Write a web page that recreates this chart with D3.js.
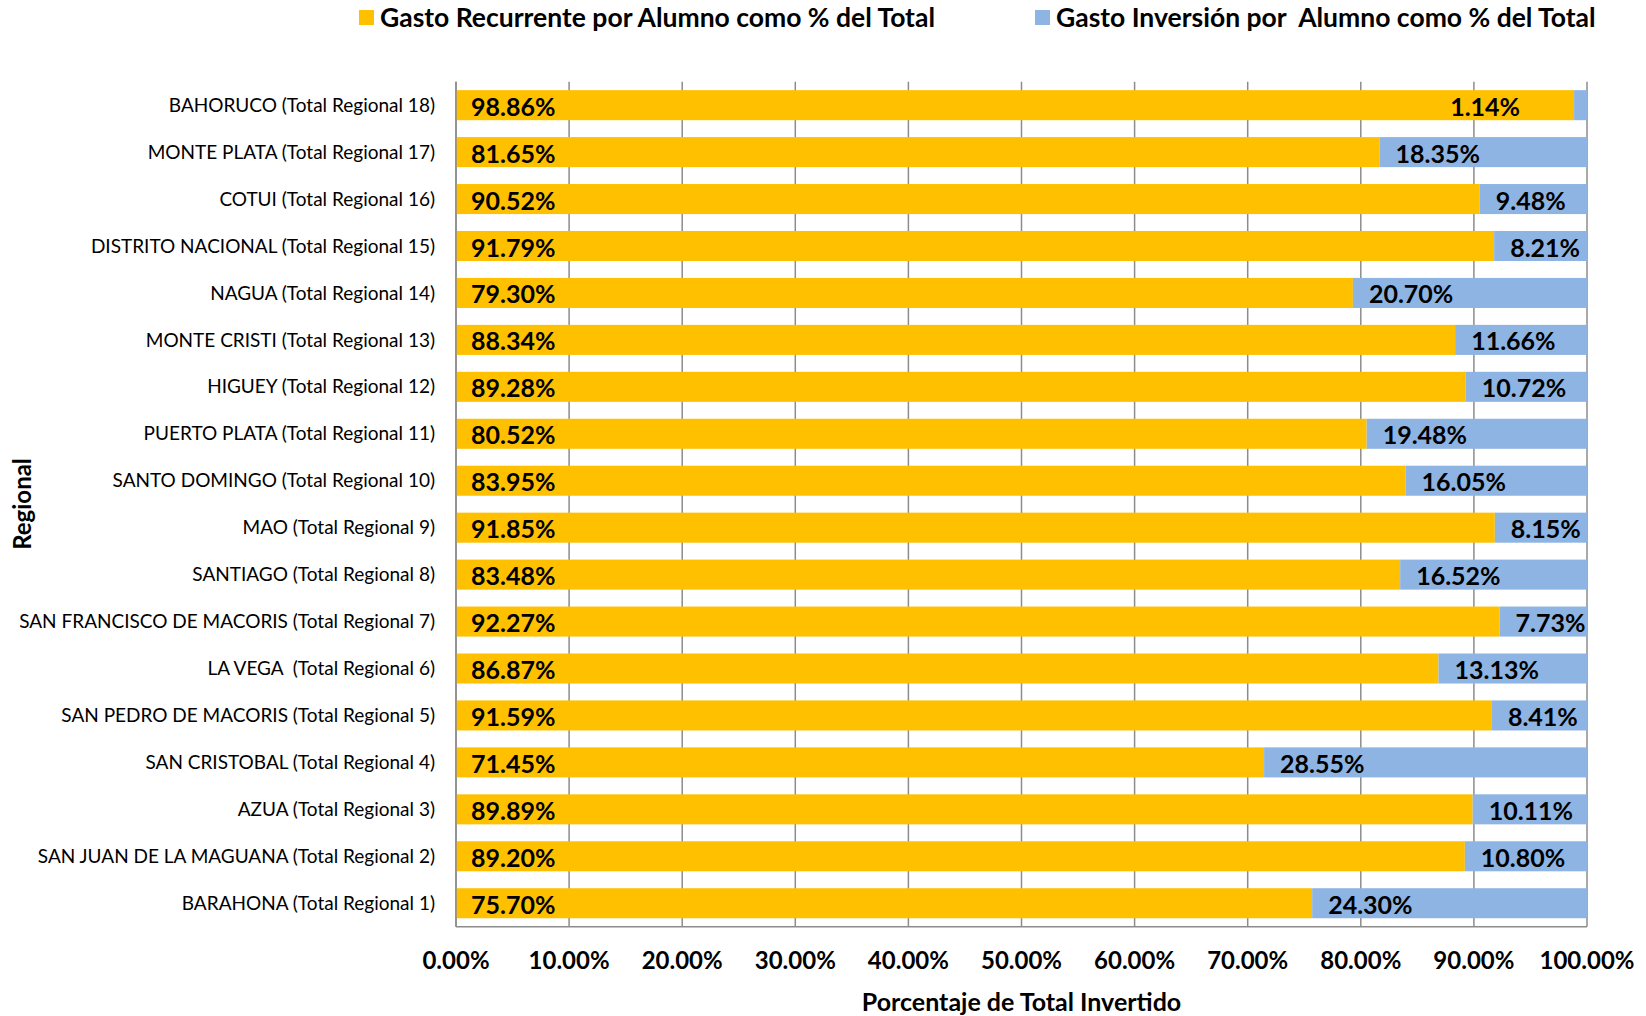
<!DOCTYPE html>
<meta charset="utf-8">
<style>
body {
  margin: 0;
  background: #fff;
  font-family: Lato, "Open Sans", sans-serif;
}
.grid line {
  stroke: #8c8c8c;
  stroke-width: 1.5;
}
.cat {
  font-size: 19px;
  fill: #000;
  white-space: pre;
}
.lbl {
  font-size: 25px;
  font-weight: bold;
  fill: #000;
}
.tick-lbl {
  font-size: 24px;
  font-weight: bold;
}
</style>
<svg width="1646" height="1016"></svg>
<script src="https://cdn.jsdelivr.net/npm/d3@7/dist/d3.min.js"></script>
<script>

// regional names, bottom (1) to top (18)
var regionales = [
  "BARAHONA (Total Regional 1)",
  "SAN JUAN DE LA MAGUANA (Total Regional 2)",
  "AZUA (Total Regional 3)",
  "SAN CRISTOBAL (Total Regional 4)",
  "SAN PEDRO DE MACORIS (Total Regional 5)",
  "LA VEGA  (Total Regional 6)",
  "SAN FRANCISCO DE MACORIS (Total Regional 7)",
  "SANTIAGO (Total Regional 8)",
  "MAO (Total Regional 9)",
  "SANTO DOMINGO (Total Regional 10)",
  "PUERTO PLATA (Total Regional 11)",
  "HIGUEY (Total Regional 12)",
  "MONTE CRISTI (Total Regional 13)",
  "NAGUA (Total Regional 14)",
  "DISTRITO NACIONAL (Total Regional 15)",
  "COTUI (Total Regional 16)",
  "MONTE PLATA (Total Regional 17)",
  "BAHORUCO (Total Regional 18)"
];

var recurrente = [75.70, 89.20, 89.89, 71.45, 91.59, 86.87, 92.27, 83.48, 91.85,
                  83.95, 80.52, 89.28, 88.34, 79.30, 91.79, 90.52, 81.65, 98.86];
var inversion  = [24.30, 10.80, 10.11, 28.55, 8.41, 13.13, 7.73, 16.52, 8.15,
                  16.05, 19.48, 10.72, 11.66, 20.70, 8.21, 9.48, 18.35, 1.14];

var xTicks = [0, 10, 20, 30, 40, 50, 60, 70, 80, 90, 100];

var seriesNames = ["Gasto Recurrente por Alumno como % del Total",
                   "Gasto Inversión por  Alumno como % del Total"];
var colors = ["#FFC000", "#8EB4E3"];

var svg = d3.select("svg");
var plotLeft = 456, plotRight = 1587, plotTop = 81.7, plotBottom = 926.7;

var x = d3.scaleLinear().domain([0, 100]).range([plotLeft, plotRight]);
var y = d3.scaleBand()
    .domain(regionales.slice().reverse())
    .range([plotTop, plotBottom])
    .paddingInner(0.36)
    .paddingOuter(0.18);

// gridlines
svg.append("g").attr("class", "grid")
  .selectAll("line")
  .data(xTicks)
  .enter().append("line")
    .attr("x1", function(d){ return x(d); })
    .attr("x2", function(d){ return x(d); })
    .attr("y1", plotTop)
    .attr("y2", plotBottom);

svg.append("line")
  .attr("x1", plotLeft).attr("x2", plotRight)
  .attr("y1", plotBottom).attr("y2", plotBottom)
  .attr("stroke", "#8c8c8c").attr("stroke-width", 1.5);

var rows = regionales.map(function(name, i){
  return {name: name, rec: recurrente[i], inv: inversion[i]};
});

var g = svg.append("g");

g.selectAll(".rec")
  .data(rows)
  .enter().append("rect")
    .attr("x", x(0))
    .attr("y", function(d){ return y(d.name); })
    .attr("width", function(d){ return x(d.rec) - x(0); })
    .attr("height", y.bandwidth())
    .attr("fill", colors[0]);

g.selectAll(".inv")
  .data(rows)
  .enter().append("rect")
    .attr("x", function(d){ return x(d.rec); })
    .attr("y", function(d){ return y(d.name); })
    .attr("width", function(d){ return x(d.rec + d.inv) - x(d.rec); })
    .attr("height", y.bandwidth())
    .attr("fill", colors[1]);

// left axis line drawn over bars
svg.append("line")
  .attr("x1", plotLeft).attr("x2", plotLeft)
  .attr("y1", plotTop).attr("y2", plotBottom)
  .attr("stroke", "#8c8c8c").attr("stroke-width", 1.5);

// category labels
g.selectAll(".cat")
  .data(rows)
  .enter().append("text")
    .attr("class", "cat")
    .attr("x", plotLeft - 21)
    .attr("y", function(d){ return y(d.name) + y.bandwidth() / 2; })
    .attr("dy", "0.35em")
    .attr("text-anchor", "end")
    .text(function(d){ return d.name; });

// data labels
g.selectAll(".lblRec")
  .data(rows)
  .enter().append("text")
    .attr("class", "lbl")
    .attr("x", plotLeft + 15)
    .attr("y", function(d){ return y(d.name) + y.bandwidth() / 2; })
    .attr("dy", "0.42em")
    .text(function(d){ return d.rec.toFixed(2) + "%"; });

g.selectAll(".lblInv")
  .data(rows)
  .enter().append("text")
    .attr("class", "lbl")
    .attr("x", function(d){
      var w = x(d.rec + d.inv) - x(d.rec);
      return w < 40 ? x(d.rec) - 54 : x(d.rec) + 16;
    })
    .attr("text-anchor", function(d){
      return (x(d.rec + d.inv) - x(d.rec)) < 40 ? "end" : "start";
    })
    .attr("y", function(d){ return y(d.name) + y.bandwidth() / 2; })
    .attr("dy", "0.42em")
    .text(function(d){ return d.inv.toFixed(2) + "%"; });

// x tick labels
svg.append("g")
  .selectAll("text")
  .data(xTicks)
  .enter().append("text")
    .attr("class", "tick-lbl")
    .attr("x", function(d){ return x(d); })
    .attr("y", 961)
    .attr("dy", "0.35em")
    .attr("text-anchor", "middle")
    .text(function(d){ return d.toFixed(2) + "%"; });

// axis titles
svg.append("text")
  .attr("x", (plotLeft + plotRight) / 2)
  .attr("y", 1002)
  .attr("dy", "0.35em")
  .attr("text-anchor", "middle")
  .style("font-size", "25px")
  .style("font-weight", "bold")
  .text("Porcentaje de Total Invertido");

svg.append("text")
  .attr("transform", "translate(23,504) rotate(-90)")
  .attr("dy", "0.35em")
  .attr("text-anchor", "middle")
  .style("font-size", "24px")
  .style("font-weight", "bold")
  .text("Regional");

// legend
var legendX = [359, 1035];
var legend = svg.append("g")
  .selectAll("g")
  .data(seriesNames)
  .enter().append("g")
    .attr("transform", function(d, i){ return "translate(" + legendX[i] + ",18)"; });

legend.append("rect")
  .attr("x", 0).attr("y", -8)
  .attr("width", 15).attr("height", 15)
  .attr("fill", function(d, i){ return colors[i]; });

legend.append("text")
  .attr("x", 21)
  .attr("dy", "0.35em")
  .style("font-size", "26.5px")
  .style("font-weight", "bold")
  .style("white-space", "pre")
  .text(function(d){ return d; });

</script>
